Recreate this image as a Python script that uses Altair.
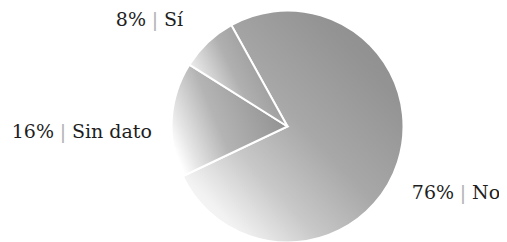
import math
import altair as alt
import pandas as pd

# Data
categories = ["No", "Sin dato", "Sí"]
values = [76, 16, 8]
pct_labels = ["76%", "16%", "8%"]
order = [0, 1, 2]

df = pd.DataFrame({"cat": categories, "value": values, "pct": pct_labels, "order": order})

CX, CY, R = 279.5, 118.5, 116
off = -29 * math.pi / 180
theta_scale = alt.Scale(domain=[0, 100], range=[off, off + 2 * math.pi])

base = (
    alt.Chart(df)
    .transform_window(cum="sum(value)", sort=[alt.SortField("order")], frame=[None, 0])
    .transform_calculate(start="datum.cum - datum.value", mid="datum.cum - datum.value / 2")
)


def grad(stops, x1, y1, x2, y2):
    return alt.LinearGradient(
        gradient="linear",
        stops=[alt.GradientStop(color=c, offset=o) for o, c in stops],
        x1=x1, y1=y1, x2=x2, y2=y2,
    )


grads = {
    "No": grad([(0, "#ffffff"), (0.15, "#f2f2f2"), (0.32, "#c8c8c8"), (0.52, "#a8a8a8"),
                (0.8, "#939393"), (1, "#8c8c8c")], 0, 1, 1, 0),
    "Sin dato": grad([(0, "#ffffff"), (0.12, "#e6e6e6"), (0.4, "#b4b4b4"), (1, "#8c8c8c")],
                     0, 0.7, 1, 0.3),
    "Sí": grad([(0, "#ffffff"), (0.15, "#e8e8e8"), (0.45, "#b0b0b0"), (1, "#8a8a8a")],
               0, 0.7, 1, 0.2),
}


def slice_layer(cat):
    return (
        base.transform_filter(alt.datum.cat == cat)
        .mark_arc(radius=R, stroke="white", strokeWidth=2, fill=grads[cat])
        .encode(
            theta=alt.Theta("start:Q", scale=theta_scale, stack=None),
            theta2="cum:Q",
            x=alt.value(CX),
            y=alt.value(CY),
        )
    )


label_pos = {
    "No": (187.4, -2.9, 9.5),
    "Sin dato": (223.8, -1.1, 18.5),
    "Sí": (165.5, -18.8, 14.0),
}

FONT = "DejaVu Serif"
FS = 19
GAP = 9


def label_layers(cat):
    r, dx, dy = label_pos[cat]
    b = base.transform_filter(alt.datum.cat == cat).encode(
        theta=alt.Theta("mid:Q", scale=theta_scale, stack=None),
        x=alt.value(CX),
        y=alt.value(CY),
    )
    common = dict(radius=r, dy=dy, baseline="middle", font=FONT, fontSize=FS)
    pct = b.mark_text(align="right", dx=dx - GAP, color="#1e1e1e", **common).encode(text="pct:N")
    bar = b.mark_text(align="center", dx=dx, color="#b0b0b0", **common).encode(text=alt.value("|"))
    name = b.mark_text(align="left", dx=dx + GAP, color="#1e1e1e", **common).encode(text="cat:N")
    return [pct, bar, name]


layers = [slice_layer(c) for c in categories]
for c in categories:
    layers += label_layers(c)

chart = (
    alt.layer(*layers)
    .properties(width=491, height=234, autosize=alt.AutoSizeParams(type="none"), padding=0)
    .configure_view(stroke=None)
)

chart.save("out.html", embed_options={"renderer": "svg", "actions": False})
